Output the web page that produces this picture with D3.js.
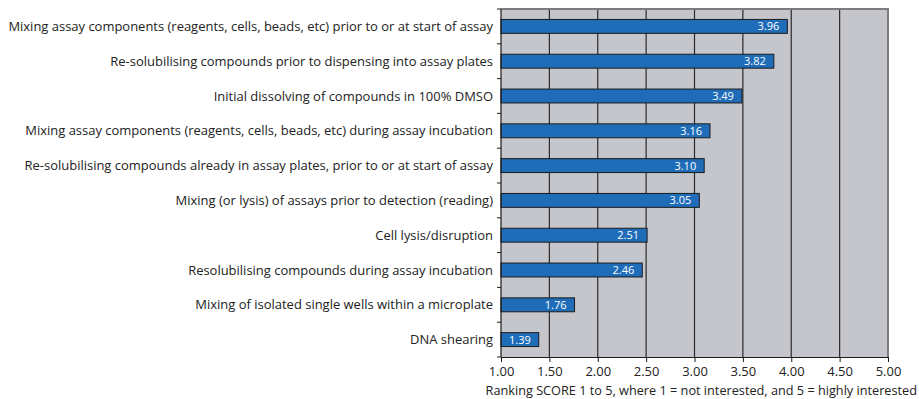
<!DOCTYPE html>
<html>
<head>
<meta charset="utf-8">
<script src="https://cdn.jsdelivr.net/npm/d3@7"></script>
<style>
  html, body { margin: 0; padding: 0; background: #ffffff; }
  svg { display: block; }
  text { font-family: "Open Sans", "Lato", sans-serif; fill: #222222; }
</style>
</head>
<body>
<svg id="chart" width="919" height="399"></svg>
<script>
// Applications ranked by interest score
const categories = [
  "Mixing assay components (reagents, cells, beads, etc) prior to or at start of assay",
  "Re-solubilising compounds prior to dispensing into assay plates",
  "Initial dissolving of compounds in 100% DMSO",
  "Mixing assay components (reagents, cells, beads, etc) during assay incubation",
  "Re-solubilising compounds already in assay plates, prior to or at start of assay",
  "Mixing (or lysis) of assays prior to detection (reading)",
  "Cell lysis/disruption",
  "Resolubilising compounds during assay incubation",
  "Mixing of isolated single wells within a microplate",
  "DNA shearing"
];
const scores = [3.96, 3.82, 3.49, 3.16, 3.10, 3.05, 2.51, 2.46, 1.76, 1.39];
const xTicks = [1.00, 1.50, 2.00, 2.50, 3.00, 3.50, 4.00, 4.50, 5.00];
const xTitle = "Ranking SCORE 1 to 5, where 1 = not interested, and 5 = highly interested";

const svg = d3.select("#chart");
const plotL = 501, plotR = 888, plotT = 9, plotB = 357;
const labelGap = 8, labelLeft = 8;

const x = d3.scaleLinear().domain([1, 5]).range([plotL, plotR]);
const y = d3.scaleBand().domain(categories).range([plotT, plotB]).paddingInner(0.6).paddingOuter(0.3);
const band = d3.scaleBand().domain(categories).range([plotT, plotB]);

// Plot background
svg.append("rect")
  .attr("x", plotL).attr("y", plotT)
  .attr("width", plotR - plotL).attr("height", plotB - plotT)
  .attr("fill", "#c5c6cb");

// Vertical gridlines
svg.append("g").selectAll("line")
  .data(xTicks.slice(1, -1))
  .join("line")
  .attr("x1", d => x(d)).attr("x2", d => x(d))
  .attr("y1", plotT).attr("y2", plotB)
  .attr("stroke", "#2b2b2b").attr("stroke-width", 1.2);

// Plot border (top and right)
svg.append("path")
  .attr("d", `M${plotL},${plotT}H${plotR}V${plotB}`)
  .attr("fill", "none").attr("stroke", "#7c7c80").attr("stroke-width", 2);

// Bars
svg.append("g").selectAll("rect")
  .data(categories)
  .join("rect")
  .attr("x", x(1))
  .attr("y", d => y(d))
  .attr("width", (d, i) => x(scores[i]) - x(1))
  .attr("height", y.bandwidth())
  .attr("fill", "#1f6db9")
  .attr("stroke", "#1b1b1b").attr("stroke-width", 1);

// Value labels inside bar ends
svg.append("g").selectAll("text")
  .data(categories)
  .join("text")
  .attr("x", (d, i) => x(scores[i]) - 8)
  .attr("y", d => y(d) + y.bandwidth() / 2)
  .attr("dy", "0.36em")
  .attr("text-anchor", "end")
  .style("fill", "#ffffff")
  .style("font-size", "11px")
  .text((d, i) => scores[i].toFixed(2));

// Category axis: ticks at band boundaries
const yAxisG = svg.append("g");
yAxisG.append("line")
  .attr("x1", plotL).attr("x2", plotL).attr("y1", plotT).attr("y2", plotB)
  .attr("stroke", "#1a1a1a").attr("stroke-width", 1.2);
const bounds = categories.map(c => band(c)).concat([plotB]);
yAxisG.selectAll("line.tick")
  .data(bounds)
  .join("line").attr("class", "tick")
  .attr("x1", plotL - 4).attr("x2", plotL)
  .attr("y1", d => d).attr("y2", d => d)
  .attr("stroke", "#1a1a1a").attr("stroke-width", 1);
const catLabels = yAxisG.selectAll("text")
  .data(categories)
  .join("text")
  .attr("x", plotL - labelGap)
  .attr("y", d => band(d) + band.bandwidth() / 2)
  .attr("dy", "0.36em")
  .attr("text-anchor", "end")
  .style("font-size", "12px")
  .text(d => d);

// Size the category labels so the longest one fills the left margin
const widest = d3.max(catLabels.nodes(), n => n.getComputedTextLength());
const fontSize = 12 * (plotL - labelGap - labelLeft) / widest;
catLabels.style("font-size", fontSize + "px");

// Value axis
const xAxis = d3.axisBottom(x).tickValues(xTicks).tickFormat(d3.format(".2f")).tickSize(5).tickSizeOuter(0);
const xg = svg.append("g").attr("transform", `translate(0,${plotB})`).call(xAxis);
xg.select(".domain").attr("stroke", "#1a1a1a").attr("stroke-width", 1.2);
xg.selectAll(".tick line").attr("stroke", "#1a1a1a");
xg.selectAll(".tick text")
  .attr("y", 10)
  .style("font-family", "'Open Sans', Lato, sans-serif")
  .style("font-size", fontSize + "px")
  .style("fill", "#222222");

svg.append("text")
  .attr("x", 917)
  .attr("y", 395)
  .attr("text-anchor", "end")
  .style("font-size", (fontSize * 0.98) + "px")
  .text(xTitle);
</script>
</body>
</html>
